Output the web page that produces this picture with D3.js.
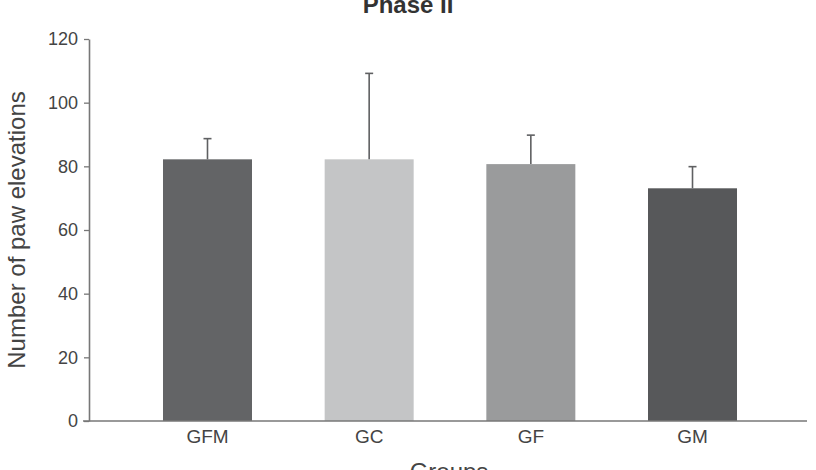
<!DOCTYPE html>
<html>
<head>
<meta charset="utf-8">
<script src="https://cdn.jsdelivr.net/npm/d3@7"></script>
<style>
  body { margin: 0; background: #fff; }
  svg { display: block; font-family: "Liberation Sans", Arial, sans-serif; }
</style>
</head>
<body>
<div id="app"></div>
<script>
`use strict`;

const groups = [`GFM`, `GC`, `GF`, `GM`];
const means = [82.2, 82.2, 80.7, 73.1];
const errTops = [88.7, 109.2, 89.8, 79.9];
const barColors = [`#636466`, `#c4c5c6`, `#9a9b9c`, `#57585a`];
const yTicks = [0, 20, 40, 60, 80, 100, 120];

const W = 816, H = 470;
const M = {top: 39, right: 5, bottom: 49, left: 89};

let SVG = d3.select(`#app`).append(`svg`).attr(`width`, W).attr(`height`, H);

let x = d3.scaleBand().domain(groups).range([M.left, 811]).paddingInner(0.4495).paddingOuter(0.4577);
let y = d3.scaleLinear().domain([0, 120]).range([H - M.bottom, M.top]);

// bars
SVG.append(`g`).selectAll(`rect`).data(groups).enter().append(`rect`)
  .attr(`x`, d => x(d))
  .attr(`y`, (d, i) => y(means[i]))
  .attr(`width`, x.bandwidth())
  .attr(`height`, (d, i) => y(0) - y(means[i]))
  .attr(`fill`, (d, i) => barColors[i]);

// error bars
let err = SVG.append(`g`).attr(`stroke`, `#5f6062`).attr(`stroke-width`, 1.6);

err.selectAll(`line.v`).data(groups).enter().append(`line`).attr(`class`, `v`)
  .attr(`x1`, d => x(d) + x.bandwidth() / 2).attr(`x2`, d => x(d) + x.bandwidth() / 2)
  .attr(`y1`, (d, i) => y(means[i])).attr(`y2`, (d, i) => y(errTops[i]));

err.selectAll(`line.c`).data(groups).enter().append(`line`).attr(`class`, `c`)
  .attr(`x1`, d => x(d) + x.bandwidth() / 2 - 4).attr(`x2`, d => x(d) + x.bandwidth() / 2 + 4)
  .attr(`y1`, (d, i) => y(errTops[i])).attr(`y2`, (d, i) => y(errTops[i]));

// y axis
let yAxis = SVG.append(`g`).attr(`transform`, `translate(${M.left},0)`)
  .call(d3.axisLeft(y).tickValues(yTicks).tickSize(5).tickPadding(6).tickSizeOuter(0));

yAxis.select(`.domain`).attr(`stroke`, `#777`).attr(`stroke-width`, 1.6);
yAxis.selectAll(`.tick line`).attr(`stroke`, `#777`).attr(`stroke-width`, 1.3);
yAxis.selectAll(`.tick text`).attr(`font-size`, `18px`).attr(`fill`, `#444`);

// x axis
let xAxis = SVG.append(`g`).attr(`transform`, `translate(0,${y(0)})`)
  .call(d3.axisBottom(x).tickSize(0).tickPadding(9));

xAxis.select(`.domain`).attr(`stroke`, `#777`).attr(`stroke-width`, 1.6).attr(`d`, `M${M.left - 6},0H807`);
xAxis.selectAll(`.tick text`).attr(`font-size`, `19px`).attr(`fill`, `#444`);

// titles
SVG.append(`text`).attr(`x`, 408).attr(`y`, 13).attr(`text-anchor`, `middle`)
  .attr(`font-size`, `24px`).attr(`font-weight`, `bold`).attr(`fill`, `#333`)
  .text(`Phase II`);

SVG.append(`text`).attr(`transform`, `translate(25,230) rotate(-90)`).attr(`text-anchor`, `middle`)
  .attr(`font-size`, `24px`).attr(`fill`, `#444`)
  .text(`Number of paw elevations`);

SVG.append(`text`).attr(`x`, 449).attr(`y`, 480).attr(`text-anchor`, `middle`)
  .attr(`font-size`, `24px`).attr(`fill`, `#444`)
  .text(`Groups`);
</script>
</body>
</html>
